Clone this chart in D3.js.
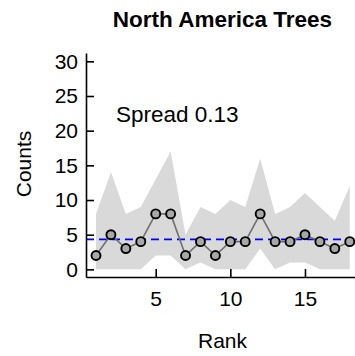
<!DOCTYPE html>
<html>
<head>
<meta charset="utf-8">
<script src="https://cdn.jsdelivr.net/npm/d3@7"></script>
<style>
  body { margin: 0; background: #fff; }
  text { font-family: "Liberation Sans", Arial, Helvetica, sans-serif; fill: #000; }
</style>
</head>
<body>
<div id="chart"></div>
<script>
var ranks = [1, 2, 3, 4, 5, 6, 7, 8, 9, 10, 11, 12, 13, 14, 15, 16, 17, 18];
var counts = [2, 5, 3, 4, 8, 8, 2, 4, 2, 4, 4, 8, 4, 4, 5, 4, 3, 4];
var upper = [8, 14, 8, 9, 13, 17, 5, 9, 8, 10, 9, 16, 8, 9, 11, 9, 7, 12];
var lower = [0, 0, 0, 0, 2, 2, 0, 1, 0, 0, 0, 3, 0, 1, 1, 0, 0, 0];
var xTicks = [5, 10, 15];
var yTicks = [0, 5, 10, 15, 20, 25, 30];
var meanCount = d3.mean(counts);
var spreadLabel = "Spread 0.13";

var width = 355, height = 356;

var svg = d3.select("#chart")
  .append("svg")
  .attr("width", width)
  .attr("height", height);

var x = d3.scaleLinear().domain([0.33, 18.62]).range([86, 359]);
var y = d3.scaleLinear().domain([-1.1, 31.2]).range([277, 53]);

var rows = ranks.map(function(r, i) {
  return {rank: r, count: counts[i], hi: upper[i], lo: lower[i]};
});

// grey band
svg.append("path")
  .datum(rows)
  .attr("fill", "#d9d9d9")
  .attr("d", d3.area()
    .x(function(d) { return x(d.rank); })
    .y0(function(d) { return y(d.lo); })
    .y1(function(d) { return y(d.hi); }));

// mean line
svg.append("line")
  .attr("x1", x.range()[0]).attr("x2", x.range()[1])
  .attr("y1", y(meanCount)).attr("y2", y(meanCount))
  .attr("stroke", "#0000ff")
  .attr("stroke-width", 1.8)
  .attr("stroke-dasharray", "8,5");

// data line
svg.append("path")
  .datum(rows)
  .attr("fill", "none")
  .attr("stroke", "#707070")
  .attr("stroke-width", 1.6)
  .attr("d", d3.line()
    .x(function(d) { return x(d.rank); })
    .y(function(d) { return y(d.count); }));

svg.selectAll("circle.pt")
  .data(rows)
  .enter().append("circle")
  .attr("class", "pt")
  .attr("cx", function(d) { return x(d.rank); })
  .attr("cy", function(d) { return y(d.count); })
  .attr("r", 4.5)
  .attr("fill", "#a8a8a8")
  .attr("stroke", "#000")
  .attr("stroke-width", 1.9);

// axes, ticks inward
var yAxis = svg.append("g")
  .attr("transform", "translate(" + x.range()[0] + ",0)")
  .call(d3.axisLeft(y).tickValues(yTicks).tickSizeInner(-8).tickSizeOuter(0).tickPadding(8));

var xAxis = svg.append("g")
  .attr("transform", "translate(0," + y.range()[0] + ")")
  .call(d3.axisBottom(x).tickValues(xTicks).tickSizeInner(-8).tickSizeOuter(0).tickPadding(14));

[yAxis, xAxis].forEach(function(g) {
  g.select(".domain").attr("stroke", "#000").attr("stroke-width", 1.6);
  g.selectAll(".tick line").attr("stroke", "#000").attr("stroke-width", 1.6);
  g.selectAll(".tick text")
    .attr("font-size", "21px")
    .attr("font-family", "Liberation Sans, Arial, sans-serif");
});

// texts
svg.append("text")
  .attr("x", 222.5).attr("y", 27)
  .attr("text-anchor", "middle")
  .attr("font-size", "22.5px")
  .attr("font-weight", "bold")
  .text("North America Trees");

svg.append("text")
  .attr("x", 116).attr("y", 122)
  .attr("font-size", "22.5px")
  .text(spreadLabel);

svg.append("text")
  .attr("x", 222.5).attr("y", 348)
  .attr("text-anchor", "middle")
  .attr("font-size", "21px")
  .text("Rank");

svg.append("text")
  .attr("transform", "translate(31,164) rotate(-90)")
  .attr("text-anchor", "middle")
  .attr("font-size", "21px")
  .text("Counts");
</script>
</body>
</html>
